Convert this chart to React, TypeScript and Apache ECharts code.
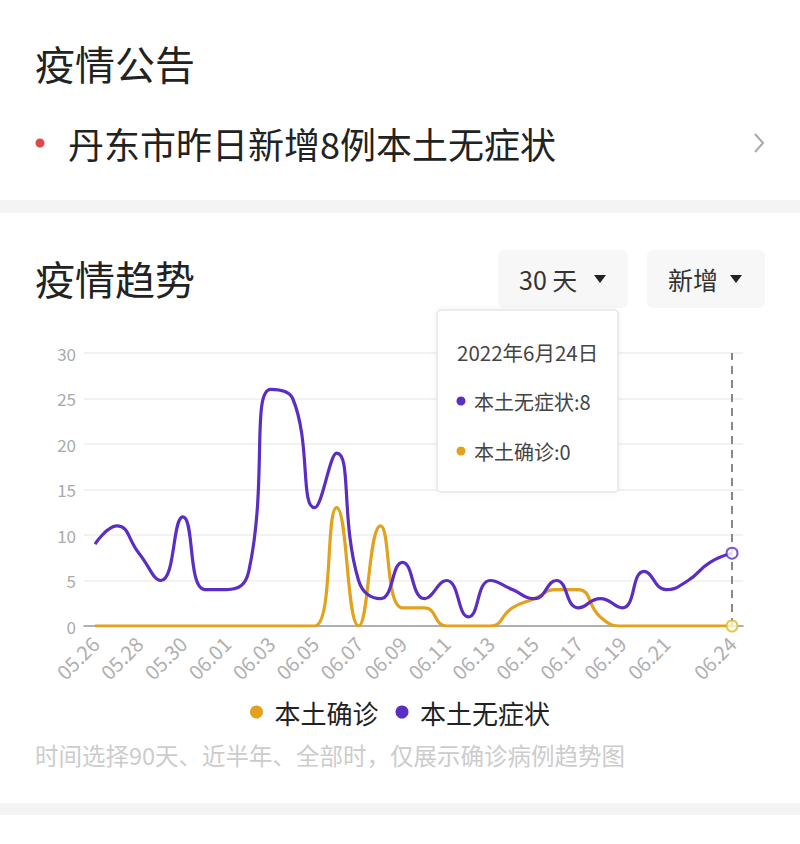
import React, { useEffect, useRef } from "react";
import * as echarts from "echarts";

const dates = [
  "05.26", "05.27", "05.28", "05.29", "05.30", "05.31", "06.01", "06.02", "06.03", "06.04",
  "06.05", "06.06", "06.07", "06.08", "06.09", "06.10", "06.11", "06.12", "06.13", "06.14",
  "06.15", "06.16", "06.17", "06.18", "06.19", "06.20", "06.21", "06.22", "06.23", "06.24",
];
const confirmed = [0, 0, 0, 0, 0, 0, 0, 0, 0, 0, 0, 13, 0, 11, 2, 2, 0, 0, 0, 2, 3, 4, 4, 1, 0, 0, 0, 0, 0, 0];
const asymptomatic = [9, 11, 8, 5, 12, 4, 4, 6, 26, 25, 13, 19, 5, 3, 7, 3, 5, 1, 5, 4, 3, 5, 2, 3, 2, 6, 4, 5, 7, 8];
const yTicks = [0, 5, 10, 15, 20, 25, 30];

const FONT = "'Noto Sans CJK SC', 'Noto Sans', sans-serif";
const ORANGE = "#e2a21e";
const PURPLE = "#5a2dc4";

export default function App() {
  const ref = useRef<HTMLDivElement>(null);
  useEffect(() => {
    if (!ref.current) return;
    const chart = echarts.init(ref.current, undefined, { renderer: "svg" });
    const lastIdx = dates.length - 1;
    const lastDate = dates[lastIdx];
    const txt = (x: number, y: number, text: string, size: number, fill: string, align = "left") => ({
      type: "text",
      x,
      y,
      z: 10,
      style: { text, fontSize: size, fontFamily: FONT, fill, align, verticalAlign: "middle" },
    });
    chart.setOption({
      animation: false,
      backgroundColor: "#ffffff",
      textStyle: { fontFamily: FONT },
      grid: { left: 84, width: 659, top: 353, height: 273, containLabel: false },
      legend: {
        data: ["本土确诊", "本土无症状"],
        top: 694,
        left: "center",
        icon: "circle",
        itemWidth: 26,
        itemHeight: 13,
        itemGap: 17,
        textStyle: { fontSize: 26, color: "#222", fontFamily: FONT },
      },
      xAxis: {
        type: "category",
        data: dates,
        boundaryGap: true,
        axisLine: { lineStyle: { color: "#999", width: 1.5 } },
        axisTick: { show: false },
        axisLabel: {
          rotate: 45,
          color: "#b0b0b0",
          fontSize: 20,
          margin: 14,
          interval: (i: number) => (i % 2 === 0 && i <= 26) || i === lastIdx,
        },
      },
      yAxis: {
        type: "value",
        min: 0,
        max: 30,
        interval: 5,
        axisLine: { show: false },
        axisTick: { show: false },
        axisLabel: { color: "#aaa", fontSize: 17, margin: 8, formatter: (v: number) => (yTicks.includes(v) ? String(v) : "") },
        splitLine: { lineStyle: { color: "#eeeeee", width: 1.5 } },
      },
      series: [
        {
          name: "本土确诊",
          type: "line",
          data: confirmed,
          smooth: true,
          symbol: "none",
          color: ORANGE,
          lineStyle: { width: 3.2, color: ORANGE },
        },
        {
          name: "本土无症状",
          type: "line",
          data: asymptomatic,
          smooth: true,
          symbol: "none",
          color: PURPLE,
          lineStyle: { width: 3.2, color: PURPLE },
          markLine: {
            silent: true,
            symbol: ["none", "none"],
            label: { show: false },
            lineStyle: { color: "#888", type: [8, 6], width: 2 },
            data: [{ xAxis: lastDate }],
          },
        },
        {
          name: "end-confirmed",
          type: "scatter",
          data: [[lastDate, confirmed[lastIdx]]],
          symbol: "circle",
          symbolSize: 11,
          itemStyle: { color: "#fffbe0", borderColor: "#d9bd2c", borderWidth: 2 },
          z: 5,
        },
        {
          name: "end-asym",
          type: "scatter",
          data: [[lastDate, asymptomatic[lastIdx]]],
          symbol: "circle",
          symbolSize: 11,
          itemStyle: { color: "#ffffff", borderColor: PURPLE, borderWidth: 2 },
          z: 5,
        },
      ],
      graphic: [
        { type: "rect", shape: { x: 0, y: 200, width: 800, height: 13 }, style: { fill: "#f4f4f4" }, z: 0 },
        { type: "rect", shape: { x: 0, y: 803, width: 800, height: 12 }, style: { fill: "#f4f4f4" }, z: 0 },
        txt(35, 63, "疫情公告", 40, "#222"),
        { type: "circle", shape: { cx: 40, cy: 143, r: 4.5 }, style: { fill: "#e0474c" }, z: 10 },
        txt(68, 143, "丹东市昨日新增8例本土无症状", 36, "#222"),
        {
          type: "polyline",
          shape: { points: [[755, 134], [763, 143], [755, 152]] },
          style: { stroke: "#aaa", lineWidth: 2, fill: null },
          z: 10,
        },
        txt(35, 278, "疫情趋势", 40, "#222"),
        { type: "rect", shape: { x: 498, y: 250, width: 130, height: 58, r: 6 }, style: { fill: "#f7f7f7" }, z: 5 },
        txt(519, 279, "30 天", 25, "#333"),
        { type: "polygon", shape: { points: [[594, 275], [606, 275], [600, 283]] }, style: { fill: "#222" }, z: 10 },
        { type: "rect", shape: { x: 647, y: 250, width: 118, height: 58, r: 6 }, style: { fill: "#f7f7f7" }, z: 5 },
        txt(668, 279, "新增", 25, "#333"),
        { type: "polygon", shape: { points: [[730, 275], [742, 275], [736, 283]] }, style: { fill: "#222" }, z: 10 },
        {
          type: "rect",
          shape: { x: 437, y: 310, width: 181, height: 182, r: 4 },
          style: { fill: "#ffffff", stroke: "#e6e6e6", lineWidth: 1.5, shadowBlur: 6, shadowColor: "rgba(0,0,0,0.06)" },
          z: 20,
        },
        { ...txt(457, 352, "2022年6月24日", 20.5, "#444"), z: 21 },
        { type: "circle", shape: { cx: 461, cy: 401, r: 4.5 }, style: { fill: PURPLE }, z: 21 },
        { ...txt(474, 401, `本土无症状:${asymptomatic[lastIdx]}`, 20, "#444"), z: 21 },
        { type: "circle", shape: { cx: 461, cy: 451, r: 4.5 }, style: { fill: ORANGE }, z: 21 },
        { ...txt(474, 451, `本土确诊:${confirmed[lastIdx]}`, 20, "#444"), z: 21 },
        txt(35, 755, "时间选择90天、近半年、全部时，仅展示确诊病例趋势图", 23.5, "#cccccc"),
      ],
    });
    return () => chart.dispose();
  }, []);
  return (
    <div
      ref={ref}
      style={{ position: "absolute", left: 0, top: 0, width: 800, height: 844 }}
    />
  );
}
